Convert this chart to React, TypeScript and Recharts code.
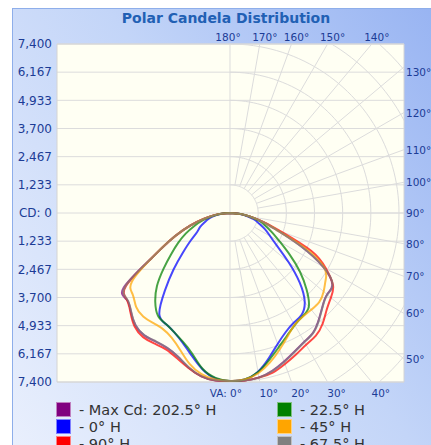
import React from "react";
import { ScatterChart, Scatter, XAxis, YAxis, CartesianGrid, ReferenceDot, ReferenceArea } from "recharts";

// vertical angles (deg from nadir) at which candela values are read
const verticalAngles = [0, 5, 10, 15, 20, 25, 30, 35, 40, 45, 50, 55, 60, 65, 70, 75, 80, 85, 90];

// candela, left half of the plot (opposite plane) and right half
const maxCdLeft = [7355, 7360, 7260, 7000, 6690, 6520, 6500, 6540, 6430, 6130, 5900, 5680, 4000, 2972, 2185, 1486, 874, 437, 0];
const maxCdRight = [7355, 7364, 7310, 7150, 6920, 6690, 6510, 6370, 6060, 5740, 5550, 5470, 4700, 3400, 2185, 1486, 874, 437, 0];
const h0Left = [7355, 7276, 6948, 6468, 6052, 5768, 5615, 5397, 4436, 3496, 2688, 2098, 1661, 1442, 1180, 961, 699, 350, 0];
const h0Right = [7355, 7320, 7058, 6577, 6100, 5760, 5559, 5454, 5091, 4318, 3343, 2526, 2032, 1696, 1355, 1093, 743, 371, 0];
const h90Left = [7355, 7355, 7254, 7027, 6774, 6599, 6607, 6634, 6494, 6162, 5900, 5550, 3977, 2972, 2185, 1530, 918, 437, 0];
const h90Right = [7355, 7364, 7320, 7232, 7036, 6839, 6664, 6555, 6315, 5987, 5768, 5506, 4851, 3933, 2404, 1530, 874, 437, 0];
const h22Left = [7355, 7245, 6926, 6380, 6009, 5768, 5615, 5497, 5091, 4523, 3802, 3146, 2622, 2141, 1661, 1224, 787, 393, 0];
const h22Right = [7355, 7320, 7071, 6656, 6249, 5921, 5664, 5528, 5366, 4741, 3999, 3199, 2526, 2054, 1661, 1311, 830, 415, 0];
const h45Left = [7355, 7320, 7167, 6839, 6380, 6031, 5869, 5878, 5913, 5812, 5559, 5244, 3977, 2972, 2185, 1486, 874, 437, 0];
const h45Right = [7355, 7320, 7123, 6774, 6358, 5965, 5659, 5550, 5532, 5524, 5353, 5113, 4763, 3605, 2185, 1486, 874, 437, 0];
const h67Left = [7355, 7355, 7254, 6992, 6686, 6511, 6489, 6533, 6424, 6118, 5878, 5594, 3977, 2972, 2185, 1486, 874, 437, 0];
const h67Right = [7355, 7364, 7320, 7167, 6940, 6708, 6524, 6380, 6079, 5751, 5563, 5484, 4720, 3409, 2185, 1486, 874, 437, 0];

const cdTicks = [-7400, -6167, -4933, -3700, -2467, -1233, 0, 1233, 2467, 3700, 4933, 6167, 7400];
const gridAngles = [0, 10, 20, 30, 40, 50, 60, 70, 80, 90, 100, 110, 120, 130, 140, 150, 160, 170, 180];
const ringStep = 7400 / 6;
const ringCount = 8;

const X_MIN = -7575;
const X_MAX = 7619;
const CD_MAX = 7400;

const series = [
  { name: "Max Cd: 202.5° H", color: "#800080", left: maxCdLeft, right: maxCdRight },
  { name: "0° H", color: "#0000ff", left: h0Left, right: h0Right },
  { name: "90° H", color: "#ff0000", left: h90Left, right: h90Right },
  { name: "22.5° H", color: "#008000", left: h22Left, right: h22Right },
  { name: "45° H", color: "#ffa500", left: h45Left, right: h45Right },
  { name: "67.5° H", color: "#808080", left: h67Left, right: h67Right },
];
// legend reads column by column
const legendCols = [series.slice(0, 3), series.slice(3)];

const rad = (d: number) => (d * Math.PI) / 180;
const polar = (r: number, deg: number, side = 1) => ({ x: side * r * Math.sin(rad(deg)), y: -r * Math.cos(rad(deg)) });

function curvePoints(left: number[], right: number[]) {
  const pts = [];
  for (let i = verticalAngles.length - 1; i >= 0; i--) pts.push(polar(left[i], verticalAngles[i], -1));
  for (let i = 1; i < verticalAngles.length; i++) pts.push(polar(right[i], verticalAngles[i], 1));
  return pts;
}

const rings = Array.from({ length: ringCount }, (_, k) => {
  const pts = [];
  for (let a = 0; a <= 180; a += 2) pts.push(polar(ringStep * (k + 1), a));
  return pts;
});
const spokes = gridAngles
  .filter((a) => a !== 0 && a !== 180)
  .map((a) => [polar(ringStep, a), polar(30000, a)]);

// where each spoke leaves the plot, for its label
function labelAnchor(a: number) {
  if (a <= 40) return { x: CD_MAX * Math.tan(rad(a)), y: -CD_MAX, side: "bottom" };
  if (a >= 140) return { x: CD_MAX * Math.tan(rad(180 - a)), y: CD_MAX, side: "top" };
  return { x: X_MAX, y: -X_MAX / Math.tan(rad(a)), side: "right" };
}

const fmtCd = (v: number) => (v === 0 ? "CD: 0" : Math.abs(v).toLocaleString("en-US"));
const labelColor = "#1c3c96";
const font = "DejaVu Sans, Verdana, sans-serif";

function AngleLabel(props: any) {
  const { cx, cy, angle, side } = props;
  let x = cx, y = cy, anchor = "middle", text = `${angle}°`;
  if (side === "bottom") {
    y = cy + 15;
    if (angle === 0) { text = "VA: 0°"; anchor = "end"; x = cx + 12; } else x = cx + 9;
  } else if (side === "top") {
    y = cy - 3;
    x = angle === 180 ? cx - 2 : cx + 5;
  } else {
    x = cx + 2;
    anchor = "start";
    y = Math.max(cy, 72) + 4;
  }
  return (
    <text x={x} y={y} textAnchor={anchor} fill={labelColor} fontSize={10.5} fontFamily={font}>
      {text}
    </text>
  );
}

export default function App() {
  const gridStroke = "#dcdcdc";
  return (
    <div style={{ position: "absolute", left: 0, top: 0, width: 431, height: 445, background: "#fff", overflow: "hidden", fontFamily: font }}>
      <div
        style={{
          position: "absolute", left: 12, top: 8, width: 430, height: 450,
          borderLeft: "1px solid #8eaeea", borderTop: "1px solid #8eaeea",
          background: "linear-gradient(235deg, #97b3f2 0%, #c3d5f8 45%, #eaf0fd 100%)",
        }}
      />
      <div style={{ position: "absolute", left: 0, top: 10, width: 452, textAlign: "center", fontWeight: "bold", fontSize: 14, color: "#2160b4" }}>
        Polar Candela Distribution
      </div>
      <div style={{ position: "absolute", left: 0, top: 0 }}>
        <ScatterChart width={431} height={445} margin={{ top: 44, right: 27, bottom: 63, left: 0 }}>
          <CartesianGrid vertical={false} stroke={gridStroke} fill="#fffff3" />
          <XAxis type="number" dataKey="x" domain={[X_MIN, X_MAX]} allowDataOverflow hide />
          <YAxis
            type="number" dataKey="y" domain={[-CD_MAX, CD_MAX]} ticks={cdTicks} allowDataOverflow interval={0}
            width={57} axisLine={false} tickLine={false} tickSize={3} tickMargin={2}
            tickFormatter={fmtCd} tick={{ fill: labelColor, fontSize: 12, fontFamily: font }}
          />
          {rings.map((pts, k) => (
            <Scatter key={`ring${k}`} data={pts} line={{ stroke: gridStroke, strokeWidth: 1 }} fill="none" shape={() => <g />} isAnimationActive={false} />
          ))}
          {spokes.map((pts, k) => (
            <Scatter key={`spoke${k}`} data={pts} line={{ stroke: gridStroke, strokeWidth: 1 }} fill="none" shape={() => <g />} isAnimationActive={false} />
          ))}
          <Scatter data={[{ x: 0, y: -CD_MAX }, { x: 0, y: CD_MAX }]} line={{ stroke: gridStroke, strokeWidth: 1 }} fill="none" shape={() => <g />} isAnimationActive={false} />
          <ReferenceArea x1={X_MIN} x2={X_MAX} y1={-CD_MAX} y2={CD_MAX} fill="none" stroke="#d4d4d4" ifOverflow="visible" />
          {series.map((s) => (
            <Scatter
              key={s.name}
              name={s.name}
              data={curvePoints(s.left, s.right)}
              fill={s.color}
              line={{ stroke: s.color, strokeWidth: 2, strokeOpacity: 0.72 }}
              lineJointType="natural"
              shape={() => <g />}
              isAnimationActive={false}
            />
          ))}
          {gridAngles.map((a) => {
            const p = labelAnchor(a);
            return (
              <ReferenceDot
                key={`lbl${a}`} x={p.x} y={p.y} r={0} ifOverflow="visible"
                shape={(props: any) => <AngleLabel {...props} angle={a} side={p.side} />}
              />
            );
          })}
        </ScatterChart>
      </div>
      {legendCols.map((col, ci) => (
        <div key={ci} style={{ position: "absolute", left: ci === 0 ? 56 : 277, top: 401 }}>
          {col.map((s) => (
            <div key={s.name} style={{ display: "flex", alignItems: "center", height: 17, fontSize: 14.5, color: "#333" }}>
              <span style={{ width: 13, height: 13, background: s.color, border: "1px solid rgba(255,255,255,0.5)", marginRight: 8 }} />
              <span>- {s.name}</span>
            </div>
          ))}
        </div>
      ))}
    </div>
  );
}
